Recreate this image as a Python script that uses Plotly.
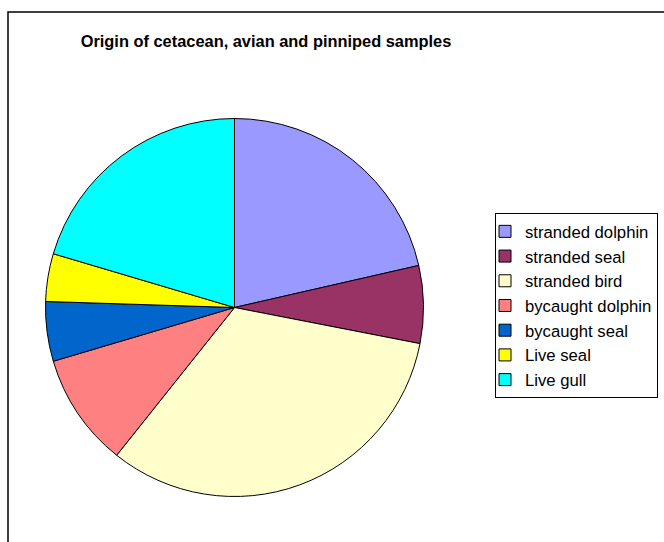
import plotly.graph_objects as go

labels = ["stranded dolphin", "stranded seal", "stranded bird", "bycaught dolphin",
          "bycaught seal", "Live seal", "Live gull"]
values = [42, 13, 64, 19, 10, 8, 40]
colors = ["#9999FF", "#993366", "#FFFFCC", "#FF8080", "#0066CC", "#FFFF00", "#00FFFF"]

W, H = 664, 542

fig = go.Figure(go.Pie(
    labels=labels,
    values=values,
    marker=dict(colors=colors, line=dict(color="black", width=1)),
    sort=False,
    direction="clockwise",
    rotation=0,
    textinfo="none",
    hoverinfo="label+value+percent",
    domain=dict(x=[45.5 / W, 423.5 / W], y=[45.5 / H, 423.5 / H]),
))

fig.update_layout(
    width=W, height=H,
    margin=dict(l=0, r=0, t=0, b=0),
    paper_bgcolor="white",
    font=dict(family="Liberation Sans, Arial, sans-serif", color="black"),
    title=dict(text="<b>Origin of cetacean, avian and pinniped samples</b>",
               x=266 / W, xanchor="center", y=1 - 41 / H, yanchor="middle",
               font=dict(size=16.4, color="black")),
    legend=dict(x=495 / W, xanchor="left", y=1 - 213 / H, yanchor="top",
                bordercolor="black", borderwidth=1, bgcolor="white",
                font=dict(size=16.7, color="black"),
                traceorder="normal", itemwidth=30, indentation=-11),
    shapes=[dict(type="rect", xref="paper", yref="paper",
                 x0=8 / W, x1=1.05, y0=-0.05, y1=1 - 12 / H,
                 line=dict(color="black", width=1.5), fillcolor="rgba(0,0,0,0)",
                 layer="below")],
)

fig.write_html("out.html", config={"displayModeBar": False},
               post_script="document.body.style.margin='0px';")
